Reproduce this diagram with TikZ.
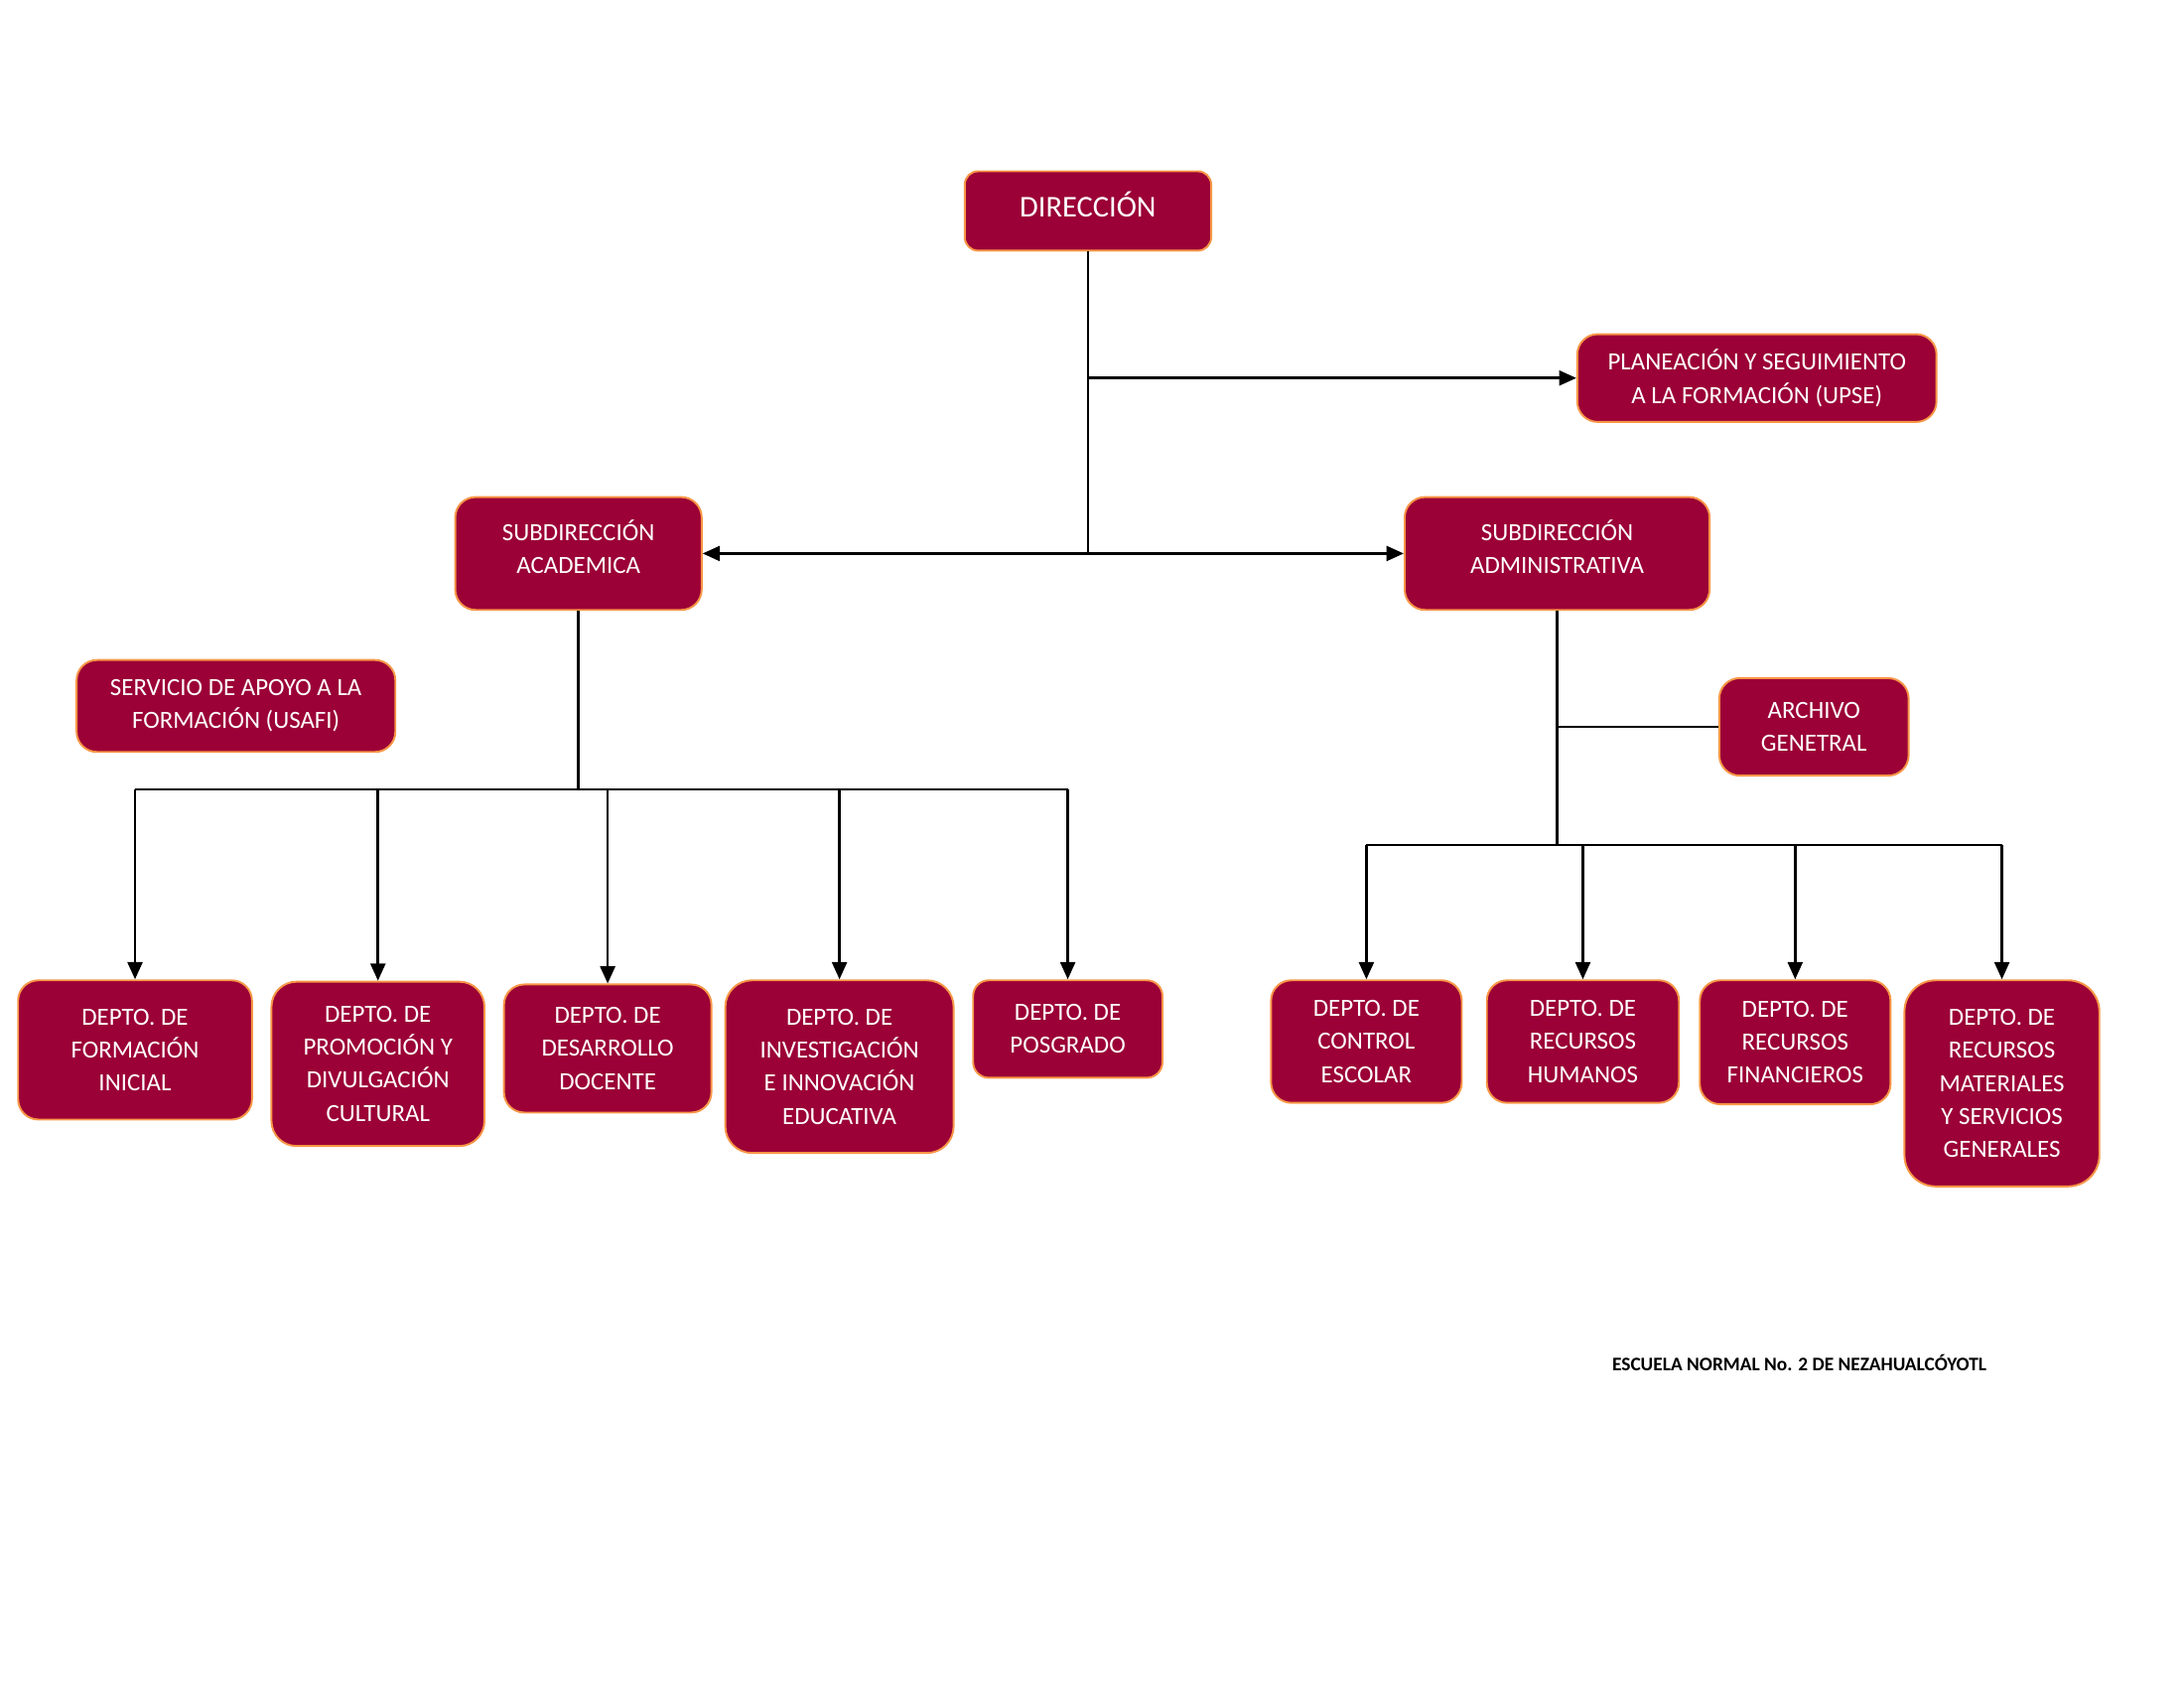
\documentclass[tikz,border=0pt]{standalone}
\usepackage{fontspec}
\setmainfont{Carlito}
\usetikzlibrary{positioning,arrows.meta,calc}
\definecolor{vino}{HTML}{9B0036}
\definecolor{borde}{HTML}{F79646}
\tikzset{>={Triangle[length=2.2mm,width=1.9mm]}}
\tikzset{caja/.style 2 args={draw=borde, fill=vino, text=white, line width=0.7pt,
    rounded corners=2.6mm, align=center, inner sep=0pt,
    font=\fontsize{9}{12}\selectfont,
    minimum width=#1*0.01781cm, minimum height=#2*0.01781cm},
  alto/.style={execute at end node={\rule[-5pt]{0pt}{5pt}}}}

\begin{document}
\begin{tikzpicture}[x=0.01781cm, y=-0.01781cm, line width=0.9pt]
      \useasboundingbox (0,0) rectangle (1568.8,1214.6);
      \node[caja={177}{57},alto,rounded corners=1.7mm,font=\fontsize{11}{13}\selectfont] (dir) at (781.5,151.5) {DIRECCIÓN};  %top node
      \node[caja={258}{63}] (upse) at (1262,271.5) {PLANEACIÓN Y SEGUIMIENTO\\A LA FORMACIÓN (UPSE)};
      \node[caja={177}{81},alto] (acad) at (415.5,397.5) {SUBDIRECCIÓN\\ACADEMICA};
      \node[caja={219}{81},alto] (admin) at (1118.5,397.5) {SUBDIRECCIÓN\\ADMINISTRATIVA};
      \node[caja={229}{66}] (usafi) at (169.5,507) {SERVICIO DE APOYO A LA\\FORMACIÓN (USAFI)};
      \node[caja={136}{70}] (arch) at (1303,522) {ARCHIVO\\GENETRAL};

      % academic departments
      \node[caja={168}{100}] (d1) at (97,754) {DEPTO. DE\\FORMACIÓN\\INICIAL};
      \node[caja={153}{118},rounded corners=3.2mm] (d2) at (271.5,764) {DEPTO. DE\\PROMOCIÓN Y\\DIVULGACIÓN\\CULTURAL};
      \node[caja={149}{92}] (d3) at (436.5,753) {DEPTO. DE\\DESARROLLO\\DOCENTE};
      \node[caja={164}{124},rounded corners=3.4mm] (d4) at (603,766) {DEPTO. DE\\INVESTIGACIÓN\\E INNOVACIÓN\\EDUCATIVA};
      \node[caja={136}{70},rounded corners=2mm] (d5) at (767,739) {DEPTO. DE\\POSGRADO};

      % administrative departments
      \node[caja={137}{88}] (e1) at (981.5,748) {DEPTO. DE\\CONTROL\\ESCOLAR};
      \node[caja={138}{88}] (e2) at (1137,748) {DEPTO. DE\\RECURSOS\\HUMANOS};
      \node[caja={137}{89}] (e3) at (1289.5,748.5) {DEPTO. DE\\RECURSOS\\FINANCIEROS};
      \node[caja={140}{148},rounded corners=4mm] (e4) at (1438,778) {DEPTO. DE\\RECURSOS\\MATERIALES\\Y SERVICIOS\\GENERALES};

      \node[font=\fontsize{7}{8}\selectfont\bfseries] (pie) at (1292.5,979) {ESCUELA NORMAL No. 2 DE NEZAHUALCÓYOTL};

      \coordinate (j1) at (dir.south |- acad.east);
      \coordinate (ba) at (acad.south |- 0,567);
      \coordinate (bb) at (admin.south |- 0,607);

      \draw (dir.south) -- (j1);
      \draw[->] (dir.south |- upse.west) -- (upse.west);
      \draw[->] (j1) -- (acad.east);
      \draw[->] (j1) -- (admin.west);

      \draw (acad.south) -- (ba);
      \draw (d1.north |- ba) -- (d5.north |- ba);
      \foreach \d in {d1,d2,d3,d4,d5}
        \draw[->] (\d.north |- ba) -- (\d.north);

      \draw (admin.south) -- (bb);
      \draw (admin.south |- arch.west) -- (arch.west);
      \draw (e1.north |- bb) -- (e4.north |- bb);
      \foreach \d in {e1,e2,e3,e4}
        \draw[->] (\d.north |- bb) -- (\d.north);
\end{tikzpicture}
\end{document}
